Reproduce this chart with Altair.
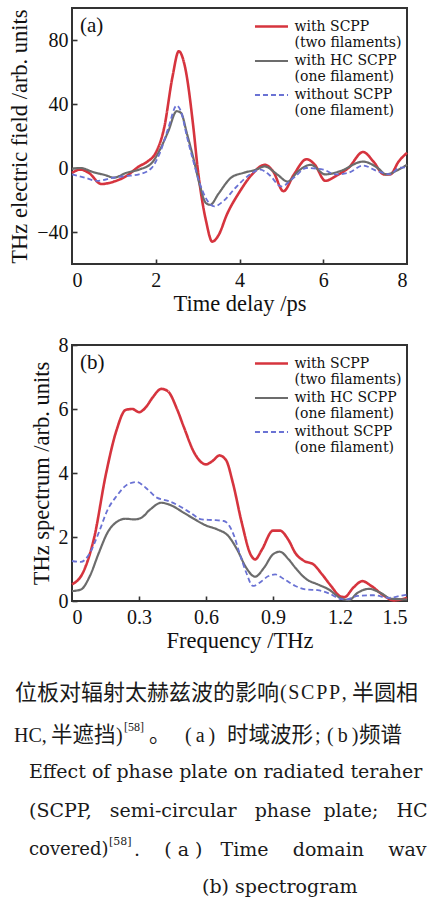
import altair as alt
import pandas as pd

SERIES = ["with SCPP|(two filaments)", "with HC SCPP|(one filament)", "without SCPP|(one filament)"]
COLORS = ["#d6343e", "#6c6c6c", "#6a72d4"]
DASHES = [[1, 0], [1, 0], [5, 3]]
WIDTHS = [2.6, 1.8, 2.0]

# ---- panel (a): time-domain waveform ----
t_red = [0, 0.2, 0.4, 0.7, 1.0, 1.3, 1.6, 1.8, 2.0, 2.2, 2.4, 2.55, 2.7, 2.9, 3.0, 3.1, 3.2, 3.35,
         3.5, 3.7, 4.0, 4.3, 4.6, 4.8, 5.05, 5.3, 5.6, 5.8, 6.05, 6.3, 6.6, 6.95, 7.2, 7.45, 7.6, 7.8, 8.0]
e_red = [-3, -1, -3, -10, -8.5, -5, 1, 4, 9.5, 25, 57, 73, 63, 25, 0, -19, -33, -46,
         -42, -29, -15, -4, 2, -2, -14.5, -4, 5.5, 2, -8, -5, 0, 10, 4, -4, -4, 4, 9.5]
t_gray = [0, 0.2, 0.5, 0.8, 1.0, 1.3, 1.6, 1.9, 2.1, 2.3, 2.5, 2.6, 2.75, 2.9, 3.05, 3.2, 3.3, 3.5,
          3.8, 4.1, 4.4, 4.6, 4.9, 5.15, 5.4, 5.7, 6.05, 6.4, 6.95, 7.3, 7.5, 7.8, 8.0]
e_gray = [-0.5, 0, -2.5, -4.5, -6, -3, -1, 3, 11.5, 23, 35.5, 34.5, 21, 6, -10.5, -22, -23, -16,
          -6, -3, -1, 1, -4, -8.5, -2, 2, -4, -2, 4, 0, -4, -1, 2]
t_blue = [0, 0.3, 0.6, 1.0, 1.3, 1.6, 1.9, 2.1, 2.3, 2.5, 2.6, 2.75, 2.9, 3.05, 3.2, 3.4, 3.6,
          3.9, 4.2, 4.5, 4.7, 5.0, 5.3, 5.6, 6.0, 6.3, 6.6, 6.95, 7.3, 7.6, 7.8, 8.0]
e_blue = [-4, -6, -8, -6, -5, -4, 0, 9.5, 25, 39, 35.5, 19, 4, -9.5, -19, -24, -21,
          -12.5, -5, -1, -4, -11.5, -6, 0, -1, -4, -3, 1.5, -2, -4, 0, 0.5]

# ---- panel (b): spectrum ----
f_red = [0, 0.05, 0.1, 0.15, 0.2, 0.24, 0.27, 0.3, 0.33, 0.36, 0.4, 0.43, 0.47, 0.5, 0.55, 0.6,
         0.63, 0.66, 0.69, 0.72, 0.76, 0.8, 0.82, 0.85, 0.9, 0.93, 0.97, 1.0, 1.04, 1.08, 1.12,
         1.16, 1.2, 1.22, 1.26, 1.3, 1.34, 1.4, 1.44, 1.5]
s_red = [0.52, 0.9, 2.0, 3.9, 5.35, 5.97, 6.0, 5.9, 6.05, 6.35, 6.63, 6.55, 6.0, 5.45, 4.6, 4.27,
         4.38, 4.55, 4.4, 3.7, 2.45, 1.45, 1.3, 1.6, 2.2, 2.2, 1.9, 1.5, 1.25, 1.15, 0.83,
         0.47, 0.15, 0.12, 0.42, 0.62, 0.47, 0.15, 0.02, 0.1]
f_gray = [0, 0.04, 0.08, 0.12, 0.16, 0.2, 0.24, 0.28, 0.31, 0.35, 0.4, 0.44, 0.5, 0.55, 0.6, 0.65,
          0.7, 0.74, 0.78, 0.82, 0.86, 0.9, 0.93, 0.97, 1.0, 1.05, 1.1, 1.15, 1.2, 1.24, 1.28,
          1.33, 1.38, 1.43, 1.5]
s_gray = [0.31, 0.36, 0.78, 1.5, 2.15, 2.47, 2.57, 2.55, 2.6, 2.86, 3.07, 3.0, 2.76, 2.55, 2.36, 2.24,
          2.03, 1.6, 1.04, 0.76, 1.04, 1.46, 1.54, 1.3, 1.04, 0.68, 0.52, 0.36, 0.1, 0.03, 0.26,
          0.38, 0.26, 0.07, 0.05]
f_blue = [0, 0.04, 0.08, 0.12, 0.16, 0.2, 0.25, 0.29, 0.33, 0.38, 0.43, 0.48, 0.53, 0.58, 0.63,
          0.68, 0.72, 0.75, 0.78, 0.81, 0.84, 0.88, 0.91, 0.95, 1.0, 1.05, 1.1, 1.15, 1.2, 1.23,
          1.28, 1.35, 1.42, 1.47, 1.5]
s_blue = [1.25, 1.22, 1.5, 2.14, 2.86, 3.28, 3.65, 3.72, 3.54, 3.23, 3.13, 2.97, 2.76, 2.55, 2.53,
          2.5, 2.14, 1.5, 0.89, 0.47, 0.57, 0.78, 0.83, 0.68, 0.47, 0.36, 0.34, 0.24, 0.07, 0.05,
          0.16, 0.18, 0.1, 0.16, 0.2]

X_TICKS_A = [0, 2, 4, 6, 8]
Y_TICKS_A = [-40, 0, 40, 80]
X_TICKS_B = [0, 0.3, 0.6, 0.9, 1.2, 1.5]
Y_TICKS_B = [0, 2, 4, 6, 8]

NB, TH, HS = "\u00a0", "\u2009", "\u200a"
CAPTION_ZH = ["位板对辐射太赫兹波的影响", f"({HS}S{HS}C{HS}P{HS}P{HS},", "半圆相",
              "HC,", "半遮挡", ")", "[58]", "。", f"({TH}a{TH})", "时域波形", ";",
              f"({TH}b{TH})", "频谱"]
CAPTION_EN = ["Effect of phase plate on radiated teraher",
              f"(SCPP,{NB*3}semi-circular{NB*3}phase{NB*2}plate;{NB*3}HC",
              "covered)", "[58]", f".{NB*4}({NB}a{NB}){NB*3}Time{NB*4}domain{NB*4}wav",
              "(b) spectrogram"]

SERIF = "'Liberation Serif'"
CJK = "'Noto Sans CJK SC'"
CAPF = "'DejaVu Serif'"
W, H = 335, 256


def long_df(xs_list, ys_list, xname, yname):
    rows = []
    for i, (xs, ys) in enumerate(zip(xs_list, ys_list)):
        for k, (x, y) in enumerate(zip(xs, ys)):
            rows.append({xname: x, yname: y, "series": SERIES[i], "order": k})
    return pd.DataFrame(rows)


df_a = long_df([t_red, t_gray, t_blue], [e_red, e_gray, e_blue], "t", "v")
df_b = long_df([f_red, f_gray, f_blue], [s_red, s_gray, s_blue], "f", "v")

# a 14px symbol box whose line path reaches 2.36x beyond it -> a 33px legend line
legend = alt.Legend(
    orient="none", legendX=191, legendY=10, title=None, symbolType="M-2.36,0L2.36,0",
    symbolSize=196, labelExpr="split(datum.label, '|')", labelFont=CAPF, labelFontSize=14,
    labelOffset=14.5, rowPadding=2.5, labelBaseline="middle", labelColor="#111",
)


def panel(df, xf, xdom, xticks, xtitle, ydom, yticks, ytitle, tag, extra=None, xfmt="d"):
    xs = alt.Scale(domain=xdom, nice=False, zero=False)
    ys = alt.Scale(domain=ydom, nice=False, zero=False)
    ax_kw = dict(labelFont=SERIF, labelFontSize=20, labelColor="#111", titleFont=SERIF,
                 titleFontSize=22.5, titleFontWeight="normal", titleColor="#111",
                 grid=False, domain=False, tickSize=0)
    xaxis = alt.Axis(values=xticks, title=xtitle, labelPadding=6, titlePadding=2,
                     orient="bottom", format=xfmt, **ax_kw)
    yaxis = alt.Axis(values=yticks, title=ytitle, labelPadding=4, titlePadding=5, orient="left", **ax_kw)
    lines = alt.Chart(df).mark_line(interpolate="monotone").encode(
        x=alt.X(f"{xf}:Q", scale=xs, axis=xaxis),
        y=alt.Y("v:Q", scale=ys, axis=yaxis),
        color=alt.Color("series:N", scale=alt.Scale(domain=SERIES, range=COLORS), legend=legend),
        strokeDash=alt.StrokeDash("series:N", scale=alt.Scale(domain=SERIES, range=DASHES), legend=legend),
        strokeWidth=alt.StrokeWidth("series:N", scale=alt.Scale(domain=SERIES, range=WIDTHS), legend=legend),
        order="order:Q",
    )
    tick_kw = dict(grid=False, domain=False, labels=False, title=None, tickSize=5, offset=-5,
                   tickColor="#333", tickWidth=1.6)
    ticks = alt.Chart(df).mark_line(opacity=0).encode(
        x=alt.X(f"{xf}:Q", scale=xs, axis=alt.Axis(values=xticks[1:-1], orient="bottom", **tick_kw)),
        y=alt.Y("v:Q", scale=ys, axis=alt.Axis(values=yticks, orient="left", **tick_kw)),
        detail="series:N",
    )
    label = alt.Chart(pd.DataFrame({"s": [tag]})).mark_text(
        font=SERIF, fontSize=21, align="left", baseline="middle", color="#111"
    ).encode(text="s:N", x=alt.value(8), y=alt.value(18))
    layers = [lines, ticks, label] + (extra or [])
    return alt.layer(*layers).resolve_axis(x="independent", y="independent").properties(width=W, height=H)


def txt(s, x, y, size=19, font=CAPF):
    return alt.Chart(pd.DataFrame({"s": [s]})).mark_text(
        font=font, fontSize=size, align="left", baseline="middle", color="#1a1a1a"
    ).encode(text="s:N", x=alt.value(x - 73), y=alt.value(y - 345))


Z = CAPTION_ZH
L1, L2 = 693, 736
caption = [
    txt(Z[0], 16, L1, 22, CJK),
    txt(Z[1], 281, L1, 20, SERIF),
    txt(Z[2], 353, L1, 22, CJK),
    txt(Z[3], 15, L2, 20, SERIF),
    txt(Z[4], 52, L2, 21.5, CJK),
    txt(Z[5], 117, L2, 20, SERIF),
    txt(Z[6], 125, L2 - 9, 12, SERIF),
    txt(Z[7], 150, L2, 21.5, CJK),
    txt(Z[8], 186, L2, 20, SERIF),
    txt(Z[9], 228, L2, 21.5, CJK),
    txt(Z[10], 316, L2, 20, SERIF),
    txt(Z[11], 328, L2, 20, SERIF),
    txt(Z[12], 360, L2, 21.5, CJK),
    txt(CAPTION_EN[0], 30, 772),
    txt(CAPTION_EN[1], 30, 811),
    txt(CAPTION_EN[2], 30, 850, 18),
    txt(CAPTION_EN[3], 110, 842, 11),
    txt(CAPTION_EN[4], 135, 850),
    txt(CAPTION_EN[5], 203, 887),
]

pa = panel(df_a, "t", [0, 8], X_TICKS_A, "Time delay /ps", [-60, 100], Y_TICKS_A,
           "THz electric field /arb. units", "(a)")
pb = panel(df_b, "f", [0, 1.5], X_TICKS_B, "Frequency /THz", [0, 8], Y_TICKS_B,
           "THz spectrum /arb. units", "(b)", extra=caption, xfmt=".1~f")

chart = alt.vconcat(pa, pb, spacing=18).resolve_scale(
    color="independent", strokeDash="independent", strokeWidth="independent"
).resolve_legend(
    color="independent", strokeDash="independent", strokeWidth="independent"
).configure_view(stroke="#333", strokeWidth=2).properties(
    padding={"left": 7, "top": 7, "right": 0, "bottom": 0}, background="white"
)

chart.save("out.html", embed_options={"renderer": "svg", "actions": False})
